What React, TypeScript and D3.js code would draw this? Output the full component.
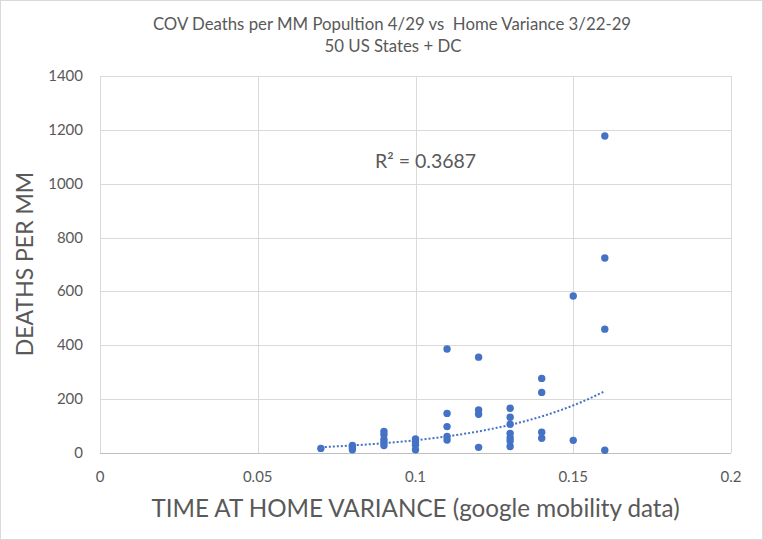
import React from "react";
import * as d3 from "d3";

const title1 = "COV Deaths per MM Popultion 4/29 vs  Home Variance 3/22-29";
const title2 = "50 US States + DC";
const xTitle = "TIME AT HOME VARIANCE (google mobility data)";
const yTitle = "DEATHS PER MM";
const r2Label = "R² = 0.3687";

const xTicks = [0, 0.05, 0.1, 0.15, 0.2];
const yTicks = [0, 200, 400, 600, 800, 1000, 1200, 1400];

const homeVariance = [
  0.07,
  0.08, 0.08, 0.08,
  0.09, 0.09, 0.09, 0.09, 0.09,
  0.1, 0.1, 0.1, 0.1,
  0.11, 0.11, 0.11, 0.11, 0.11,
  0.12, 0.12, 0.12, 0.12,
  0.13, 0.13, 0.13, 0.13, 0.13, 0.13, 0.13,
  0.14, 0.14, 0.14, 0.14,
  0.15, 0.15,
  0.16, 0.16, 0.16, 0.16,
];
const deathsPerMM = [
  17,
  28, 20, 12,
  80, 68, 50, 40, 28,
  52, 42, 30, 12,
  386, 147, 98, 61, 48,
  356, 160, 144, 21,
  166, 133, 107, 73, 57, 45, 24,
  277, 225, 77, 55,
  583, 47,
  1177, 724, 460, 10,
];

const W = 763;
const H = 540;
const M = { left: 100, right: 731, top: 76, bottom: 453 };
const TEXT = "#595959";
const GRID = "#d9d9d9";
const BLUE = "#4472C4";
const FONT = "Lato, 'Open Sans', sans-serif";

export default function App() {
  const x = d3.scaleLinear().domain([0, 0.2]).range([M.left, M.right]);
  const y = d3.scaleLinear().domain([0, 1400]).range([M.bottom, M.top]);

  // exponential trendline fit: ln(y) = ln(a) + b x
  const n = homeVariance.length;
  const lx = homeVariance;
  const ly = deathsPerMM.map((v) => Math.log(v));
  const mx = d3.mean(lx) as number;
  const my = d3.mean(ly) as number;
  let sxy = 0;
  let sxx = 0;
  for (let i = 0; i < n; i++) {
    sxy += (lx[i] - mx) * (ly[i] - my);
    sxx += (lx[i] - mx) * (lx[i] - mx);
  }
  const b = sxy / sxx;
  const a = Math.exp(my - b * mx);
  const [x0, x1] = d3.extent(homeVariance) as [number, number];
  const trendPts: [number, number][] = d3
    .range(0, 101)
    .map((i) => {
      const xv = x0 + ((x1 - x0) * i) / 100;
      return [xv, a * Math.exp(b * xv)];
    });
  const line = d3
    .line<[number, number]>()
    .x((d) => x(d[0]))
    .y((d) => y(d[1]));

  return (
    <svg
      width={W}
      height={H}
      style={{ position: "absolute", left: 0, top: 0, background: "#fff" }}
      fontFamily={FONT}
    >
      <rect x={0.5} y={0.5} width={W - 1} height={H - 1} fill="#fff" stroke={GRID} />
      <text
        x={392}
        y={30}
        textAnchor="middle"
        fontSize={16.8}
        fill={TEXT}
        style={{ whiteSpace: "pre" }}
      >
        {title1}
      </text>
      <text x={393} y={52} textAnchor="middle" fontSize={16.8} fill={TEXT}>
        {title2}
      </text>

      {/* gridlines */}
      {yTicks.map((t) => (
        <line
          key={"gy" + t}
          x1={M.left}
          x2={M.right}
          y1={Math.round(y(t)) + 0.5}
          y2={Math.round(y(t)) + 0.5}
          stroke={GRID}
        />
      ))}
      {xTicks.map((t) => (
        <line
          key={"gx" + t}
          x1={Math.round(x(t)) + 0.5}
          x2={Math.round(x(t)) + 0.5}
          y1={M.top}
          y2={M.bottom}
          stroke={GRID}
        />
      ))}
      <line
        x1={M.left}
        x2={M.right}
        y1={Math.round(y(0)) + 0.5}
        y2={Math.round(y(0)) + 0.5}
        stroke="#bfbfbf"
      />

      {/* tick labels */}
      {yTicks.map((t) => (
        <text
          key={"ly" + t}
          x={83}
          y={y(t) + 5}
          textAnchor="end"
          fontSize={15}
          fill={TEXT}
        >
          {t}
        </text>
      ))}
      {xTicks.map((t) => (
        <text
          key={"lx" + t}
          x={x(t)}
          y={482}
          textAnchor="middle"
          fontSize={15}
          fill={TEXT}
        >
          {t}
        </text>
      ))}

      {/* axis titles */}
      <text x={415.5} y={517} textAnchor="middle" fontSize={24.2} fill={TEXT}>
        {xTitle}
      </text>
      <text
        transform={`translate(33,264) rotate(-90)`}
        textAnchor="middle"
        fontSize={23}
        fill={TEXT}
      >
        {yTitle}
      </text>

      {/* trendline */}
      <path
        d={line(trendPts) || ""}
        fill="none"
        stroke={BLUE}
        strokeWidth={2}
        strokeDasharray="2 2"
      />

      {/* points */}
      {homeVariance.map((hv, i) => (
        <circle key={i} cx={x(hv)} cy={y(deathsPerMM[i])} r={3.7} fill={BLUE} />
      ))}

      <text x={375} y={168} fontSize={19.5} fill={TEXT}>
        {r2Label}
      </text>
    </svg>
  );
}
